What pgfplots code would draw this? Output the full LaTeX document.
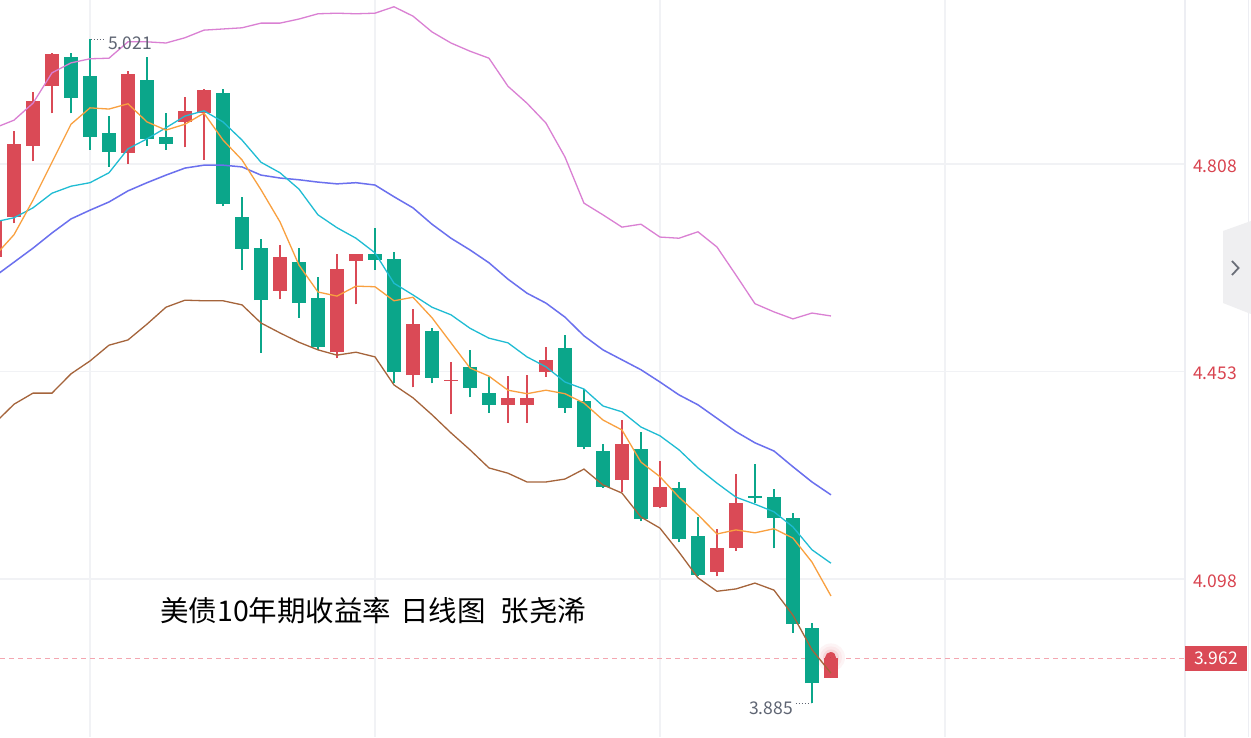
\documentclass[border=0pt]{standalone}
\usepackage{pgfplots}
\usepackage{pgfplotstable}
\pgfplotsset{compat=1.18}
\usepackage{fontspec}
\setmainfont{Noto Sans CJK SC}

\definecolor{cRed}{HTML}{DA4A56}
\definecolor{cGreen}{HTML}{0BA68A}
\definecolor{cOrange}{HTML}{F9A03F}
\definecolor{cCyan}{HTML}{1FBCD3}
\definecolor{cBlue}{HTML}{6B70EE}
\definecolor{cPink}{HTML}{DA80D3}
\definecolor{cBrown}{HTML}{A5643B}
\definecolor{cGrid}{HTML}{F1F2F5}
\definecolor{cLbl}{HTML}{D9434F}
\definecolor{cGray}{HTML}{5F6573}
\definecolor{cDash}{HTML}{F4A6B0}
\definecolor{cAxis}{HTML}{EDEEF3}
\definecolor{cTab}{HTML}{EFEFF1}
\definecolor{cChev}{HTML}{6A6E78}

\newcommand\tf{\fontsize{17.5pt}{20pt}\selectfont}

\pgfplotstableread{
i open high low close
0 4.649 4.721 4.644 4.712
1 4.717 4.865 4.707 4.842
2 4.839 4.931 4.813 4.916
3 4.941 4.998 4.895 4.996
7 4.827 4.967 4.808 4.962
10 4.880 4.923 4.837 4.899
11 4.895 4.936 4.815 4.935
15 4.591 4.669 4.577 4.649
18 4.486 4.654 4.476 4.628
19 4.642 4.654 4.568 4.654
22 4.447 4.560 4.426 4.534
24 4.437 4.469 4.380 4.439
27 4.396 4.445 4.365 4.408
28 4.396 4.447 4.365 4.408
29 4.452 4.495 4.444 4.473
33 4.267 4.370 4.247 4.329
35 4.221 4.300 4.219 4.255
38 4.110 4.184 4.103 4.151
39 4.151 4.278 4.146 4.228
44 3.929 3.966 3.929 3.962
}\redT

\pgfplotstableread{
i open high low close
4 4.991 4.998 4.895 4.921
5 4.959 5.021 4.832 4.854
6 4.861 4.890 4.803 4.829
8 4.952 4.991 4.839 4.851
9 4.854 4.895 4.832 4.842
12 4.929 4.936 4.736 4.740
13 4.717 4.752 4.627 4.663
14 4.664 4.680 4.485 4.575
16 4.640 4.664 4.545 4.570
17 4.579 4.615 4.490 4.495
20 4.654 4.699 4.627 4.644
21 4.645 4.657 4.433 4.452
23 4.522 4.527 4.433 4.442
25 4.461 4.490 4.409 4.425
26 4.416 4.444 4.382 4.396
30 4.493 4.515 4.382 4.391
31 4.403 4.423 4.320 4.324
32 4.317 4.329 4.254 4.255
34 4.320 4.350 4.197 4.201
36 4.254 4.264 4.161 4.166
37 4.172 4.204 4.103 4.105
40 4.240 4.295 4.228 4.237
41 4.238 4.252 4.151 4.202
42 4.202 4.211 4.006 4.021
43 4.014 4.023 3.885 3.920
}\greenT

\pgfplotstableread{
i ma5 ma10 ma20 up dn
0 4.651 4.709 4.616 4.870 4.365
1 4.687 4.716 4.640 4.883 4.397
2 4.746 4.733 4.664 4.912 4.416
3 4.811 4.758 4.690 4.964 4.416
4 4.876 4.770 4.714 4.981 4.449
5 4.904 4.776 4.729 4.988 4.471
6 4.902 4.793 4.743 4.989 4.498
7 4.911 4.834 4.762 5.017 4.507
8 4.880 4.851 4.776 5.017 4.534
9 4.866 4.870 4.789 5.015 4.563
10 4.876 4.890 4.801 5.024 4.575
11 4.895 4.899 4.806 5.037 4.574
12 4.849 4.880 4.806 5.039 4.574
13 4.815 4.849 4.803 5.041 4.567
14 4.764 4.811 4.789 5.049 4.536
15 4.709 4.793 4.784 5.049 4.519
16 4.635 4.765 4.781 5.056 4.503
17 4.589 4.721 4.777 5.065 4.490
18 4.582 4.699 4.774 5.066 4.481
19 4.599 4.681 4.776 5.065 4.486
20 4.598 4.656 4.772 5.066 4.478
21 4.574 4.604 4.752 5.077 4.430
22 4.580 4.584 4.733 5.061 4.408
23 4.545 4.563 4.705 5.034 4.379
24 4.502 4.550 4.681 5.015 4.348
25 4.459 4.527 4.661 5.001 4.319
26 4.445 4.510 4.639 4.989 4.288
27 4.421 4.502 4.611 4.941 4.279
28 4.415 4.478 4.587 4.912 4.264
29 4.421 4.461 4.570 4.878 4.264
30 4.415 4.435 4.546 4.820 4.269
31 4.399 4.423 4.514 4.741 4.286
32 4.370 4.394 4.490 4.721 4.259
33 4.353 4.384 4.473 4.700 4.245
34 4.298 4.358 4.456 4.705 4.204
35 4.273 4.343 4.435 4.683 4.185
36 4.238 4.319 4.413 4.681 4.144
37 4.208 4.288 4.396 4.692 4.100
38 4.175 4.262 4.373 4.666 4.077
39 4.182 4.238 4.350 4.618 4.081
40 4.177 4.226 4.331 4.569 4.091
41 4.184 4.213 4.317 4.555 4.079
42 4.168 4.187 4.290 4.543 4.036
43 4.127 4.148 4.264 4.553 3.977
44 4.069 4.125 4.242 4.548 3.937
}\lineT

\pgfplotsset{
  candle/.style 2 args={only marks, mark=*, mark size=0pt, mark options={draw=none, fill=none}, forget plot,
    error bars/.cd, y dir=plus, y explicit, error mark=none,
    error bar style={line width=#1, draw=#2}},
  halo/.style 2 args={only marks, mark=*, mark size=0pt, mark options={draw=none, fill=none}, forget plot,
    error bars/.cd, y dir=plus, y explicit, error mark=none,
    error bar style={line width=#1, draw=#2, line cap=round}},
}

\begin{document}
\begin{tikzpicture}
\useasboundingbox (0,0) rectangle (1251pt,737pt);
\fill[white] (0,0) rectangle (1251pt,737pt);
\begin{axis}[
  at={(0,0)}, anchor=south west, scale only axis,
  width=1185pt, height=737pt,
  xmin=0.26316, xmax=62.6316, ymin=3.82768, ymax=5.08858,
  axis line style={draw=none}, major tick length=0pt,
  xtick={5,20,35,50}, xticklabels={},
  ytick={4.098,4.453,4.808}, yticklabels={4.098,4.453,4.808},
  yticklabel pos=right,
  yticklabel style={anchor=west, inner sep=0pt, xshift=8pt, yshift=-2pt, font=\tf, text=cLbl},
  xmajorgrids, ymajorgrids, grid style={cGrid, line width=1.5pt},
  /pgf/number format/assume math mode=true,
]
% current price line and halo
\addplot[cDash, line width=1pt, dash pattern=on 5pt off 4pt] coordinates {(0.26316,3.962) (62.6316,3.962)};
\addplot[halo={28pt}{cRed!6}] coordinates {(44,3.9637) +- (0,0.0001)};
\addplot[halo={22pt}{cRed!12}] coordinates {(44,3.9637) +- (0,0.0001)};
\addplot[halo={16pt}{cRed!22}] coordinates {(44,3.9637) +- (0,0.0001)};
% wicks
\addplot[candle={1.5pt}{cRed}]
  table[x=i, y=low, y error plus expr={\thisrow{high}-\thisrow{low}}] \redT;
\addplot[candle={1.5pt}{cGreen}]
  table[x=i, y=low, y error plus expr={\thisrow{high}-\thisrow{low}}] \greenT;
% bodies
\addplot[candle={13.5pt}{cRed}]
  table[x=i, y=open, y error plus expr={\thisrow{close}-\thisrow{open}}] \redT;
\addplot[candle={13.5pt}{cGreen}]
  table[x=i, y=close, y error plus expr={\thisrow{open}-\thisrow{close}}] \greenT;
\addplot[halo={11pt}{cRed}] coordinates {(44,3.9635) +- (0,0.0001)};
% lines
\addplot[cPink, line width=1.3pt, mark=none] table[x=i, y=up] \lineT;
\addplot[cBrown, line width=1.3pt, mark=none] table[x=i, y=dn] \lineT;
\addplot[cBlue, line width=1.5pt, mark=none] table[x=i, y=ma20] \lineT;
\addplot[cCyan, line width=1.3pt, mark=none] table[x=i, y=ma10] \lineT;
\addplot[cOrange, line width=1.3pt, mark=none] table[x=i, y=ma5] \lineT;
% extremes
\addplot[cGray, line width=1pt, dash pattern=on 1pt off 2pt] coordinates {(5.05,5.021) (5.79,5.021)};
\addplot[cGray, line width=1pt, dash pattern=on 1pt off 2pt] coordinates {(42.16,3.885) (42.95,3.885)};
\node[anchor=north west, font=\tf, text=cGray, inner sep=0pt] at (axis cs:5.947,5.0253) {5.021};
\node[anchor=north east, font=\tf, text=cGray, inner sep=0pt] at (axis cs:42.0,3.8876) {3.885};
\node[anchor=west, inner sep=0pt, font=\fontsize{28.5pt}{32pt}\selectfont, text=black] at (axis cs:8.684,4.044) {美债10年期收益率\hspace{9pt}日线图\hspace{15pt}张尧浠};
\coordinate (pr) at (axis cs:62.6316,3.962);
\end{axis}
\draw[cAxis, line width=2pt] (1185pt,0) -- (1185pt,737pt);
\draw[cAxis, line width=1pt] (1248pt,0) -- (1248pt,737pt);
\node[fill=cRed, text=white, font=\tf, anchor=west, minimum width=62pt, minimum height=25pt, inner sep=0pt] at (pr) {3.962};
\fill[cTab] (1251pt,516pt) -- (1223pt,506pt) -- (1223pt,434pt) -- (1251pt,423pt) -- cycle;
\draw[cChev, line width=1.8pt] (1232pt,476pt) -- (1238.5pt,469pt) -- (1232pt,462pt);
\end{tikzpicture}
\end{document}
